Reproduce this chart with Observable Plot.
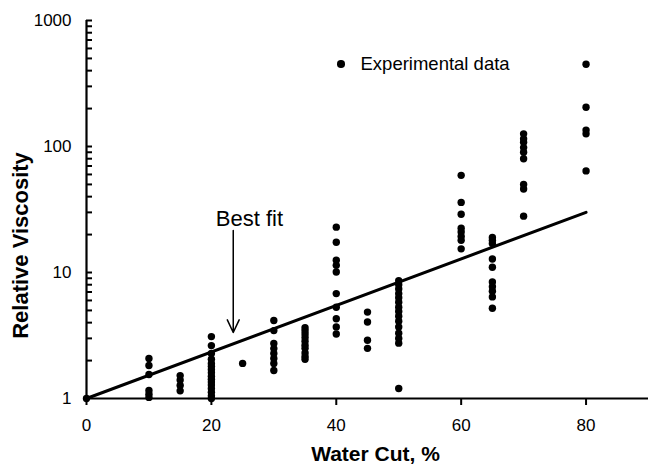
<!DOCTYPE html>
<html>
<head>
<meta charset="utf-8">
<script src="https://cdn.jsdelivr.net/npm/d3@7"></script>
<script src="https://cdn.jsdelivr.net/npm/@observablehq/plot@0.6"></script>
<style>
  html, body { margin: 0; padding: 0; background: #fff; }
  #wrap { position: relative; width: 648px; height: 468px; font-family: "Liberation Sans", Arial, sans-serif; }
  #legend { position: absolute; left: 337px; top: 53px; display: flex; align-items: center; font-size: 18.5px; color: #000; }
  #legend .dot { width: 7.5px; height: 7.5px; border-radius: 50%; background: #000; margin-right: 16px; }
</style>
</head>
<body>
<div id="wrap"><div id="legend"><span class="dot"></span><span>Experimental data</span></div></div>
<script>
// Water cut (%) of each measured group
const waterCuts = [0, 10, 15, 20, 25, 30, 35, 40, 45, 50, 60, 65, 70, 80];
// Relative viscosity readings for each water cut group
const viscosityByCut = [
  [1.0],
  [2.08, 1.83, 1.55, 1.16, 1.08, 1.02],
  [1.52, 1.4, 1.27, 1.15],
  [3.1, 2.63, 2.28, 2.05, 1.9, 1.8, 1.7, 1.6, 1.5, 1.42, 1.35, 1.28, 1.2, 1.12, 1.05, 1.0],
  [1.9],
  [4.16, 3.46, 2.73, 2.49, 2.28, 2.08, 1.9, 1.67],
  [3.65, 3.45, 3.25, 3.05, 2.85, 2.65, 2.5, 2.3, 2.15, 2.05],
  [22.9, 17.4, 12.5, 11.4, 10.1, 6.8, 5.3, 4.3, 3.7, 3.25],
  [4.85, 4.05, 2.9, 2.5],
  [8.6, 8.0, 7.4, 6.8, 6.3, 5.8, 5.3, 4.9, 4.5, 4.1, 3.7, 3.3, 3.0, 2.75, 1.2],
  [59, 36, 29, 22.5, 21, 19.3, 18, 15.4],
  [19, 18, 17, 12.8, 11, 8.4, 7.7, 7.1, 6.4, 5.2],
  [126, 115, 108, 98, 90, 80, 50, 46, 28],
  [450, 205, 135, 126, 64]
];
// Best-fit line end points (water cut, relative viscosity)
const fitCut = [0, 80];
const fitViscosity = [1, 30];
// Annotation
const annotationText = ["Best fit"];
const annotationPos = [26.1, 26.8];
const arrowFrom = [23.5, 21.5];
const arrowTo = [23.5, 3.34];
// Axis ticks
const xTicks = [0, 20, 40, 60, 80];
const yTicks = [1, 10, 100, 1000];
const xTitle = "Water Cut, %";
const yTitle = "Relative Viscosity";

const points = waterCuts.flatMap((c, i) => viscosityByCut[i].map(v => ({cut: c, visc: v})));
const fit = fitCut.map((c, i) => ({cut: c, visc: fitViscosity[i]}));
const minorTicks = [];
for (const dec of [1, 10, 100]) for (let k = 2; k <= 10; k++) minorTicks.push(dec * k);

const W = 648, H = 468, ML = 86, MR = 0, MT = 20, MB = 70;
const font = "Liberation Sans, Arial, sans-serif";

const chart = Plot.plot({
  width: W, height: H,
  marginLeft: ML, marginRight: MR, marginTop: MT, marginBottom: MB,
  style: {fontFamily: font, background: "#fff", color: "#000", overflow: "visible"},
  x: {domain: [0, 90]},
  y: {type: "log", domain: [1, 1000]},
  marks: [
    Plot.ruleY(minorTicks, {stroke: "#000", strokeWidth: 2, insetRight: W - ML - MR - 6}),
    Plot.ruleX([0], {stroke: "#000", strokeWidth: 2.2}),
    Plot.ruleY([1], {stroke: "#000", strokeWidth: 2.2}),
    Plot.axisX({ticks: xTicks, tickSize: 7, tickPadding: 13, fontSize: 17, strokeWidth: 2, label: null, tickFormat: d => String(d)}),
    Plot.axisY({ticks: yTicks, tickSize: 0, tickPadding: 15, fontSize: 17, label: null, tickFormat: d => String(d)}),
    Plot.text([yTitle], {frameAnchor: "left", textAnchor: "middle", dx: -66, dy: 36, rotate: -90, fontSize: 22, fontWeight: "bold"}),
    Plot.text([xTitle], {frameAnchor: "bottom", textAnchor: "middle", dy: 62, dx: 8, fontSize: 21, fontWeight: "bold"}),
    Plot.line(fit, {x: "cut", y: "visc", stroke: "#000", strokeWidth: 3}),
    Plot.dot(points, {x: "cut", y: "visc", r: 3.7, fill: "#000", stroke: "none"}),
    Plot.arrow([{x1: arrowFrom[0], y1: arrowFrom[1], x2: arrowTo[0], y2: arrowTo[1]}], {x1: "x1", y1: "y1", x2: "x2", y2: "y2", stroke: "#000", strokeWidth: 1.5, headLength: 14, headAngle: 50}),
    Plot.text(annotationText, {x: () => annotationPos[0], y: () => annotationPos[1], fontSize: 22})
  ]
});
document.getElementById("wrap").prepend(chart);
chart.style.position = "absolute";
chart.style.left = "0px";
chart.style.top = "0px";
</script>
</body>
</html>
